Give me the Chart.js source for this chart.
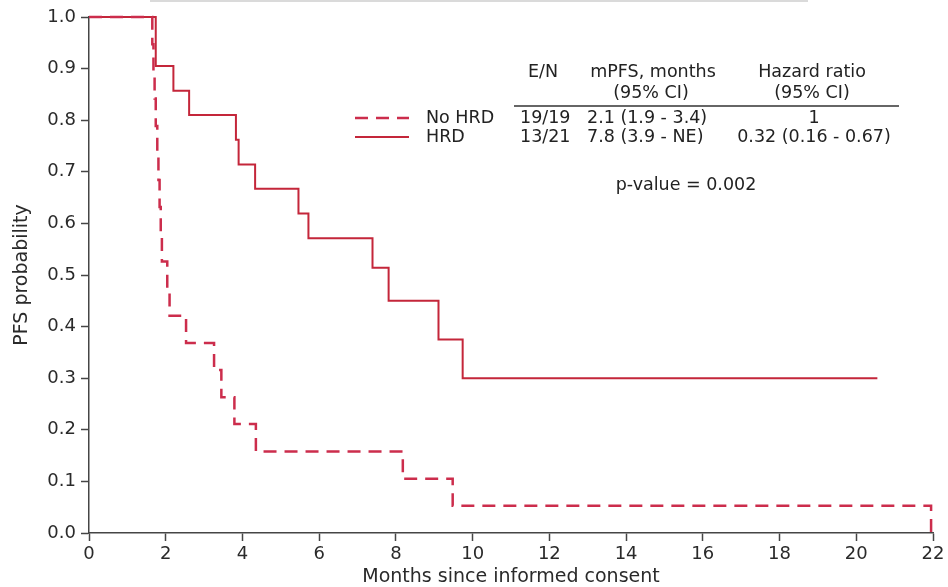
<!DOCTYPE html>
<html>
<head>
<meta charset="utf-8">
<script src="https://cdn.jsdelivr.net/npm/chart.js@4/dist/chart.umd.min.js"></script>
<style>
  html, body { margin: 0; padding: 0; background: #fff; }
  canvas { display: block; }
</style>
</head>
<body>
<canvas id="kmChart" width="948" height="587"></canvas>
<script>
// Kaplan-Meier data (months, PFS probability)
const noHrdTimes = [0, 1.65, 1.68, 1.71, 1.74, 1.78, 1.81, 1.84, 1.87, 1.90, 2.04, 2.10, 2.53, 3.26, 3.45, 3.79, 4.35, 8.18, 9.48, 21.95];
const noHrdSurv  = [1, 0.947, 0.895, 0.842, 0.789, 0.737, 0.684, 0.632, 0.579, 0.526, 0.474, 0.421, 0.368, 0.316, 0.263, 0.211, 0.158, 0.105, 0.053, 0];

const hrdTimes = [0, 1.74, 2.20, 2.61, 3.83, 3.90, 4.33, 5.46, 5.72, 7.39, 7.81, 9.11, 9.74, 20.55];
const hrdSurv  = [1, 0.905, 0.857, 0.810, 0.762, 0.714, 0.667, 0.619, 0.571, 0.514, 0.450, 0.375, 0.300, 0.300];

const xTicks = [0, 2, 4, 6, 8, 10, 12, 14, 16, 18, 20, 22];
const yTicks = [0, 0.1, 0.2, 0.3, 0.4, 0.5, 0.6, 0.7, 0.8, 0.9, 1.0];

// table next to the legend
const tableHeader = ['E/N', 'mPFS, months', 'Hazard ratio'];
const tableHeader2 = ['', '(95% CI)', '(95% CI)'];
const groupNames = ['No HRD', 'HRD'];
const eventsN = ['19/19', '13/21'];
const medianPfs = ['2.1 (1.9 - 3.4)', '7.8 (3.9 - NE)'];
const hazardRatio = ['1', '0.32 (0.16 - 0.67)'];
const pValueText = 'p-value = 0.002';

const FONT = 'DejaVu Sans';
const AXIS_COLOR = '#454545';
const TEXT_COLOR = '#222';
const HRD_COLOR = '#c4263a';
const NOHRD_COLOR = '#cc2d4c';
const NOHRD_DASH = [13, 8];

function toPoints(times, surv) {
    const pts = [];
    for (let i = 0; i < times.length; i++) {
        pts.push({ x: times[i], y: surv[i] });
    }
    return pts;
}

// draws the legend samples, the table and the p-value
const tablePlugin = {
    id: 'kmTable',
    afterDraw(chart) {
        const ctx = chart.ctx;
        ctx.save();

        // faint line along the top edge of the scan
        ctx.strokeStyle = '#dadada';
        ctx.lineWidth = 2;
        ctx.beginPath();
        ctx.moveTo(150, 1);
        ctx.lineTo(808, 1);
        ctx.stroke();

        ctx.font = '17.5px "' + FONT + '"';
        ctx.fillStyle = TEXT_COLOR;
        ctx.textBaseline = 'middle';

        // header
        ctx.textAlign = 'center';
        ctx.fillText(tableHeader[0], 543, 72);
        ctx.fillText(tableHeader[1], 653, 72);
        ctx.fillText(tableHeader[2], 812, 72);
        ctx.fillText(tableHeader2[1], 651, 93);
        ctx.fillText(tableHeader2[2], 812, 93);

        // rule under header
        ctx.strokeStyle = '#333';
        ctx.lineWidth = 1.5;
        ctx.beginPath();
        ctx.moveTo(514, 106);
        ctx.lineTo(899, 106);
        ctx.stroke();

        const rowY = [118, 137];
        for (let i = 0; i < 2; i++) {
            const y = rowY[i];
            // legend sample
            ctx.save();
            ctx.strokeStyle = i === 0 ? NOHRD_COLOR : HRD_COLOR;
            ctx.lineWidth = i === 0 ? 2.5 : 2;
            ctx.setLineDash(i === 0 ? NOHRD_DASH : []);
            ctx.beginPath();
            ctx.moveTo(355, y);
            ctx.lineTo(409, y);
            ctx.stroke();
            ctx.restore();

            ctx.textAlign = 'left';
            ctx.fillText(groupNames[i], 426, y);
            ctx.fillText(eventsN[i], 520, y);
            ctx.fillText(medianPfs[i], 587, y);
            ctx.textAlign = 'center';
            ctx.fillText(hazardRatio[i], 814, y);
        }

        ctx.textAlign = 'center';
        ctx.fillText(pValueText, 686, 185);
        ctx.restore();
    }
};

const tickFont = { family: FONT, size: 18 };
const titleFont = { family: FONT, size: 19 };

const ctx = document.getElementById('kmChart').getContext('2d');
const kmChart = new Chart(ctx, {
    type: 'line',
    data: {
        datasets: [{
            label: 'No HRD',
            data: toPoints(noHrdTimes, noHrdSurv),
            borderColor: NOHRD_COLOR,
            borderWidth: 2.5,
            borderDash: NOHRD_DASH,
            stepped: 'before',
            pointRadius: 0,
            fill: false,
            clip: 6
        }, {
            label: 'HRD',
            data: toPoints(hrdTimes, hrdSurv),
            borderColor: HRD_COLOR,
            borderWidth: 2,
            stepped: 'before',
            pointRadius: 0,
            fill: false,
            clip: 6
        }]
    },
    options: {
        responsive: false,
        animation: false,
        events: [],
        layout: { padding: { top: 17, right: 15, left: 0, bottom: 0 } },
        plugins: {
            legend: { display: false },
            tooltip: { enabled: false }
        },
        scales: {
            x: {
                type: 'linear',
                min: 0,
                max: 22,
                afterBuildTicks: (scale) => { scale.ticks = xTicks.map(v => ({ value: v })); },
                afterFit: (scale) => { scale.height = 54; },
                ticks: {
                    font: tickFont,
                    color: '#2a2a2a',
                    padding: 3,
                    maxRotation: 0,
                    callback: (v) => String(v)
                },
                grid: { drawOnChartArea: false, tickLength: 8, tickColor: AXIS_COLOR, tickWidth: 1.5 },
                border: { color: AXIS_COLOR, width: 1.5 },
                title: {
                    display: true,
                    text: 'Months since informed consent',
                    font: titleFont,
                    color: '#2a2a2a',
                    padding: { top: 0, bottom: -1 }
                }
            },
            y: {
                type: 'linear',
                min: 0,
                max: 1,
                afterBuildTicks: (scale) => { scale.ticks = yTicks.map(v => ({ value: v })); },
                afterFit: (scale) => { scale.width = 89; },
                ticks: {
                    font: tickFont,
                    color: '#2a2a2a',
                    padding: 5,
                    callback: (v) => Number(v).toFixed(1)
                },
                grid: { drawOnChartArea: false, tickLength: 8, tickColor: AXIS_COLOR, tickWidth: 1.5 },
                border: { color: AXIS_COLOR, width: 1.5 },
                title: {
                    display: true,
                    text: 'PFS probability',
                    font: titleFont,
                    color: '#2a2a2a',
                    padding: { top: 11, bottom: 0 }
                }
            }
        }
    },
    plugins: [tablePlugin]
});
</script>
</body>
</html>
